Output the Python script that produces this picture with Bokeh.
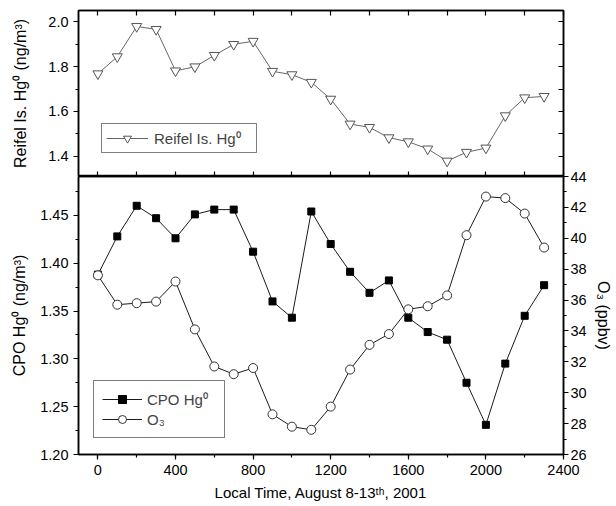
from bokeh.plotting import figure
from bokeh.layouts import column
from bokeh.models import (Range1d, LinearAxis, SingleIntervalTicker, NumeralTickFormatter,
                          CustomJSTickFormatter, Legend, LegendItem)
from bokeh.embed import file_html
from bokeh.resources import INLINE

# ---------------- data ----------------
hours = [0, 100, 200, 300, 400, 500, 600, 700, 800, 900, 1000, 1100,
         1200, 1300, 1400, 1500, 1600, 1700, 1800, 1900, 2000, 2100, 2200, 2300]
reifel_hg = [1.768, 1.844, 1.979, 1.966, 1.781, 1.799, 1.850, 1.899, 1.913, 1.779, 1.764, 1.730,
             1.655, 1.544, 1.529, 1.483, 1.465, 1.433, 1.379, 1.418, 1.437, 1.581, 1.661, 1.667]
cpo_hg = [1.388, 1.428, 1.460, 1.447, 1.426, 1.451, 1.456, 1.456, 1.412, 1.360, 1.343, 1.454,
          1.420, 1.391, 1.369, 1.382, 1.343, 1.328, 1.320, 1.275, 1.231, 1.295, 1.345, 1.377]
o3 = [37.6, 35.7, 35.8, 35.9, 37.2, 34.1, 31.7, 31.2, 31.6, 28.6, 27.8, 27.6,
      29.1, 31.5, 33.1, 33.8, 35.4, 35.6, 36.3, 40.2, 42.7, 42.6, 41.6, 39.4]

FONT = "Liberation Sans"
W = 614
LB = 78
RB = 47
OVER = 9
BB = 52

x_range = Range1d(-100, 2400)

def style_axis(ax, label_size="14.5px", title_size="16px"):
    ax.axis_line_width = 1.5
    ax.axis_line_color = "black"
    ax.major_tick_line_color = "black"
    ax.minor_tick_line_color = "black"
    ax.major_tick_line_width = 1.2
    ax.minor_tick_line_width = 1.2
    ax.major_label_text_font = FONT
    ax.major_label_text_font_size = label_size
    ax.major_label_text_color = "black"
    ax.axis_label_text_font = FONT
    ax.axis_label_text_font_size = title_size
    ax.axis_label_text_font_style = "normal"
    ax.axis_label_text_color = "black"

blank = CustomJSTickFormatter(code="return ''")

# ---------------- top panel ----------------
top = figure(width=W, height=176, x_range=x_range, y_range=Range1d(1.31, 2.05),
             output_backend="svg", toolbar_location=None,
             x_axis_location=None, y_axis_location=None,
             min_border_left=LB, min_border_right=RB, min_border_top=10, min_border_bottom=0)
top.xgrid.visible = False
top.ygrid.visible = False
top.outline_line_color = "black"
top.outline_line_width = 1.5

ax = LinearAxis(ticker=SingleIntervalTicker(interval=0.2, num_minor_ticks=2),
                formatter=NumeralTickFormatter(format="0.0"),
                axis_label="Reifel Is. Hg⁰ (ng/m³)")
style_axis(ax)
ax.major_tick_out = 5; ax.major_tick_in = 0
ax.minor_tick_out = 3; ax.minor_tick_in = 0
ax.axis_label_standoff = 16
top.add_layout(ax, "left")

a = LinearAxis(ticker=SingleIntervalTicker(interval=200, num_minor_ticks=0), formatter=blank)
style_axis(a, "0px")
a.major_tick_out = 0; a.major_tick_in = 5
a.major_label_standoff = 0
top.add_layout(a, "above")

a = LinearAxis(ticker=SingleIntervalTicker(interval=0.1, num_minor_ticks=0), formatter=blank)
style_axis(a, "0px")
a.major_tick_out = 0; a.major_tick_in = 5
a.major_label_standoff = 0
top.add_layout(a, "right")

rl = top.line(hours, reifel_hg, line_color="#555555", line_width=0.9)
rs = top.scatter(hours, reifel_hg, marker="inverted_triangle", size=10,
                 line_color="#555555", fill_color="white", line_width=1)
leg_top = Legend(items=[LegendItem(label="Reifel Is. Hg⁰", renderers=[rl, rs])],
                 location=(23, 23), border_line_color="black", border_line_width=1.2,
                 label_text_font=FONT, label_text_font_size="15px", glyph_width=42,
                 label_standoff=6, label_width=98, padding=4, margin=0,
                 background_fill_alpha=1)
top.add_layout(leg_top, "center")

# ---------------- bottom panel ----------------
bot = figure(width=W, height=OVER + 278 + BB, x_range=x_range, y_range=Range1d(1.20, 1.4906),
             output_backend="svg", toolbar_location=None,
             x_axis_location=None, y_axis_location=None,
             min_border_left=LB, min_border_right=RB, min_border_top=OVER, min_border_bottom=BB)
bot.margin = (-OVER, 0, 0, 0)
bot.border_fill_color = None
bot.background_fill_color = "white"
bot.xgrid.visible = False
bot.ygrid.visible = False
bot.outline_line_color = "black"
bot.outline_line_width = 1.5
bot.extra_y_ranges = {"o3": Range1d(26, 44)}

# inward ticks of the upper panel's lower edge
ta = LinearAxis(ticker=SingleIntervalTicker(interval=200, num_minor_ticks=0), formatter=blank)
style_axis(ta, "0px")
ta.major_tick_out = 5; ta.major_tick_in = 0
ta.major_label_standoff = 0
bot.add_layout(ta, "above")

bx = LinearAxis(ticker=SingleIntervalTicker(interval=400, num_minor_ticks=2),
                formatter=NumeralTickFormatter(format="0"),
                axis_label="Local Time, August 8-13ᵗʰ, 2001")
style_axis(bx, title_size="15px")
bx.major_tick_out = 5; bx.major_tick_in = 0
bx.minor_tick_out = 3; bx.minor_tick_in = 0
bx.axis_label_standoff = 6
bot.add_layout(bx, "below")

ly = LinearAxis(ticker=SingleIntervalTicker(interval=0.05, num_minor_ticks=2),
                formatter=NumeralTickFormatter(format="0.00"),
                axis_label="CPO Hg⁰ (ng/m³)")
style_axis(ly)
ly.major_tick_out = 5; ly.major_tick_in = 0
ly.minor_tick_out = 3; ly.minor_tick_in = 0
ly.axis_label_standoff = 9
bot.add_layout(ly, "left")

ry = LinearAxis(y_range_name="o3", ticker=SingleIntervalTicker(interval=2, num_minor_ticks=2),
                formatter=NumeralTickFormatter(format="0"), axis_label="O₃ (ppbv)")
style_axis(ry)
ry.major_tick_out = 5; ry.major_tick_in = 0
ry.minor_tick_out = 3; ry.minor_tick_in = 0
ry.major_label_standoff = 2
ry.axis_label_standoff = 5
bot.add_layout(ry, "right")

ol = bot.line(hours, o3, y_range_name="o3", line_color="black", line_width=0.9)
cl = bot.line(hours, cpo_hg, line_color="black", line_width=0.9)
cs = bot.scatter(hours, cpo_hg, marker="square", size=7, line_color="black",
                 fill_color="black")
os_ = bot.scatter(hours, o3, y_range_name="o3", marker="circle", size=9,
                  line_color="#333333", fill_color="white", line_width=1)
leg_bot = Legend(items=[LegendItem(label="CPO Hg⁰", renderers=[cl, cs]),
                        LegendItem(label="O₃", renderers=[ol, os_])],
                 location=(15, 16), border_line_color="black", border_line_width=1.2,
                 label_text_font=FONT, label_text_font_size="15px", glyph_width=40,
                 label_standoff=5, label_width=69, padding=8, spacing=0, margin=0,
                 background_fill_alpha=1)
bot.add_layout(leg_bot, "center")

p = column(top, bot, spacing=0)
open("out.html", "w").write(file_html(p, INLINE))
